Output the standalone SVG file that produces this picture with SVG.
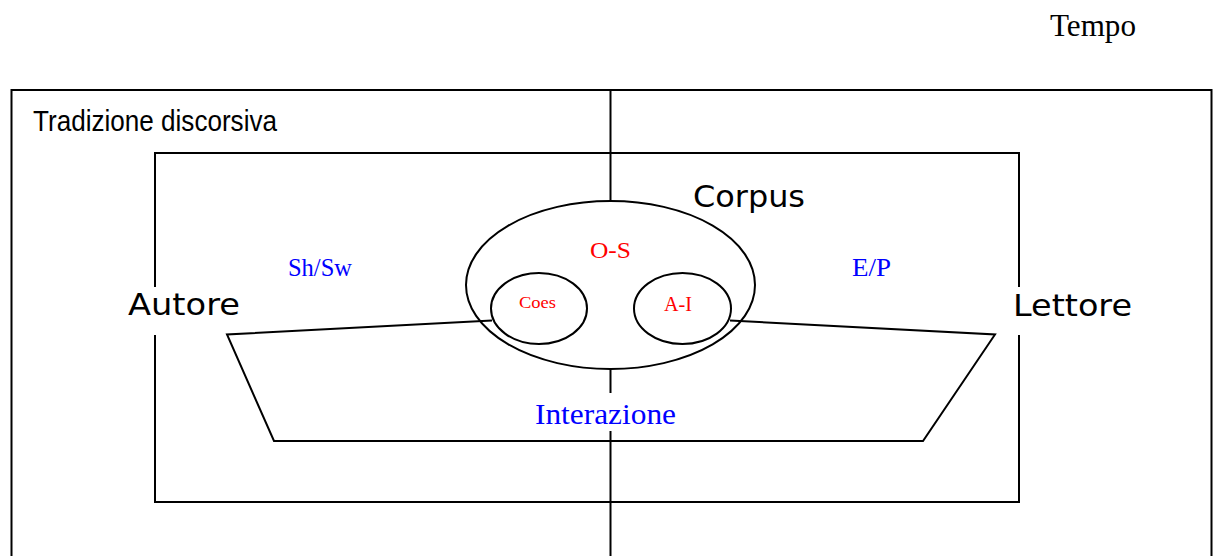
<svg xmlns="http://www.w3.org/2000/svg" width="1214" height="556" viewBox="0 0 1214 556">
  <style>
    .ln { fill: none; stroke: #000; stroke-width: 2; }
    .serif { font-family: "Liberation Serif", "Times New Roman", serif; }
    .sans { font-family: "Liberation Sans", Arial, sans-serif; }
    .hum { font-family: "DejaVu Sans", "Open Sans", sans-serif; }
    .blue { fill: #0000ff; }
    .red { fill: #ff0000; }
  </style>
  <rect width="1214" height="556" fill="#fff"/>

  <!-- frames -->
  <g id="tradizione">
    <path class="ln" d="M11.5 556 V90 H1211.5 V556"/>
    <text class="sans" x="33" y="131" font-size="29" textLength="244" lengthAdjust="spacingAndGlyphs">Tradizione discorsiva</text>
  </g>
  <g id="cornice">
    <path class="ln" d="M155 287 V153 H1019 V287"/>
    <path class="ln" d="M155 335 V502 H1019 V335"/>
  </g>

  <!-- time axis -->
  <g id="connectors">
    <path class="ln" d="M610.5 90 V201"/>
    <path class="ln" d="M610.5 369 V393"/>
    <path class="ln" d="M610.5 431 V556"/>
  </g>

  <g id="tempo">
    <text class="serif" x="1050" y="36" font-size="32" textLength="86" lengthAdjust="spacingAndGlyphs">Tempo</text>
  </g>

  <g id="interazione">
    <path class="ln" d="M492 320.5 L227 334.5 L274 441 H923 L995 334.5 L730 320.5"/>
    <text class="serif blue" x="535" y="424" font-size="29" textLength="141" lengthAdjust="spacingAndGlyphs">Interazione</text>
  </g>

  <g id="corpus">
    <ellipse class="ln" cx="610.5" cy="285" rx="144.5" ry="84"/>
    <text class="hum" x="693" y="207" font-size="30" textLength="112" lengthAdjust="spacingAndGlyphs">Corpus</text>
    <text class="serif red" x="590" y="258" font-size="23" textLength="41" lengthAdjust="spacingAndGlyphs">O-S</text>
  </g>

  <g id="coes">
    <ellipse class="ln" cx="539" cy="308.5" rx="48" ry="35.5"/>
    <text class="serif red" x="519" y="308" font-size="16" textLength="37" lengthAdjust="spacingAndGlyphs">Coes</text>
  </g>

  <g id="ai">
    <ellipse class="ln" cx="682.5" cy="308.5" rx="48.5" ry="35.5"/>
    <text class="serif red" x="664" y="311" font-size="20" textLength="28" lengthAdjust="spacingAndGlyphs">A-I</text>
  </g>

  <g id="autore">
    <text class="hum" x="128" y="315" font-size="31" textLength="112" lengthAdjust="spacingAndGlyphs">Autore</text>
    <text class="serif blue" x="288" y="276" font-size="25" textLength="64" lengthAdjust="spacingAndGlyphs">Sh/Sw</text>
  </g>

  <g id="lettore">
    <text class="hum" x="1013" y="316" font-size="31" textLength="119" lengthAdjust="spacingAndGlyphs">Lettore</text>
    <text class="serif blue" x="852" y="276" font-size="25" textLength="39" lengthAdjust="spacingAndGlyphs">E/P</text>
  </g>
</svg>
